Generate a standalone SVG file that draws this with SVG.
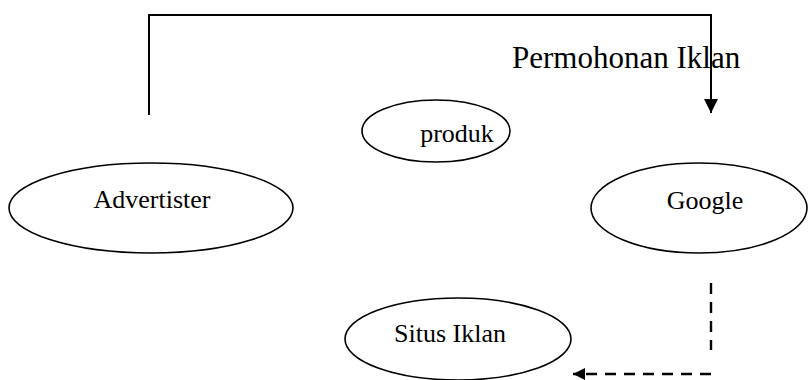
<svg xmlns="http://www.w3.org/2000/svg" width="808" height="380" viewBox="0 0 808 380">
<style>
.node ellipse{fill:#fff;stroke:#000;stroke-width:1.6}
.lbl{font-family:"Liberation Serif","Times New Roman",serif;font-size:26px;fill:#000;text-anchor:middle}
.conn{fill:none;stroke:#000;stroke-width:2}
.dash{stroke-dasharray:11 8;stroke-width:2.4}
</style>
<defs>
<marker id="ah" viewBox="0 0 14 14" refX="14" refY="7" markerWidth="14" markerHeight="14" markerUnits="userSpaceOnUse" orient="auto">
<path d="M0,0 L14,7 L0,14 Z" fill="#000"/>
</marker>
<marker id="ah2" viewBox="0 0 12 12" refX="12" refY="6" markerWidth="12" markerHeight="12" markerUnits="userSpaceOnUse" orient="auto">
<path d="M0,0 L12,6 L0,12 Z" fill="#000"/>
</marker>
</defs>
<rect width="808" height="380" fill="#fff"/>
<g id="connectors">
<path class="conn" d="M149,115 V15 H711 V113" marker-end="url(#ah)"/>
<path class="conn dash" d="M711,283 V350"/>
<path class="conn dash" d="M711,374 H573" marker-end="url(#ah2)"/>
<text x="512" y="68" style="font-family:'Liberation Serif','Times New Roman',serif;font-size:31px" fill="#000">Permohonan Iklan</text>
</g>
<g id="produk" class="node">
<ellipse cx="436" cy="131" rx="74" ry="31"/>
<text class="lbl" x="457" y="142">produk</text>
</g>
<g id="advertister" class="node">
<ellipse cx="151" cy="208" rx="142" ry="45"/>
<text class="lbl" x="152" y="208">Advertister</text>
</g>
<g id="google" class="node">
<ellipse cx="699" cy="208" rx="108" ry="45"/>
<text class="lbl" x="705" y="209">Google</text>
</g>
<g id="situs" class="node">
<ellipse cx="458" cy="339" rx="113" ry="41"/>
<text class="lbl" x="450" y="342">Situs Iklan</text>
</g>
</svg>
